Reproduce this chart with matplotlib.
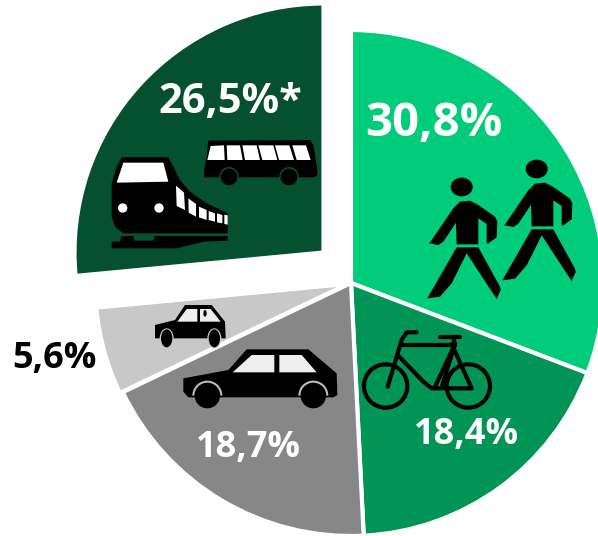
import matplotlib
matplotlib.use("Agg")
import matplotlib.pyplot as plt
from matplotlib.patches import Polygon, Circle, Ellipse, Arc

W, H = 598, 536

# Pie data
shares = [30.8, 18.4, 18.7, 5.6, 26.5]
labels = ["30,8%", "18,4%", "18,7%", "5,6%", "26,5%*"]
colors = ["#00CC7A", "#009455", "#878787", "#C8C8C8", "#04502F"]
explode = [0, 0, 0, 3, 41]  # pie takes these in data units, here pixels
label_xy = [(434, 123), (466, 435), (248, 448), (54, 359), (230, 102)]
label_size = [34, 26, 26, 26, 30]
label_color = ["white", "white", "white", "black", "white"]

fig = plt.figure(figsize=(W / 100, H / 100), dpi=100)
ax = fig.add_axes([0, 0, 1, 1])
wedges, _ = ax.pie(shares, colors=colors, explode=explode, startangle=90,
                   counterclock=False, center=(351, H - 283), radius=253,
                   wedgeprops={"edgecolor": "white", "linewidth": 3})
# the dark slice sits a bit higher than its own mid angle in the original
wedges[4].set_center((323.5, H - 252.5))
wedges[4].set_radius(249)
ax.set_xlim(0, W)
ax.set_ylim(0, H)
ax.set_aspect("equal")
ax.axis("off")

for lab, (x, y), s, c in zip(labels, label_xy, label_size, label_color):
    ax.text(x, H - y, lab, fontsize=s, color=c, family="Open Sans", weight="bold",
            ha="center", va="center", zorder=7)


def pts(p, ox, oy, dx=0, dy=0):
    return [(ox + (a + dx) / 3, H - (oy + (b + dy) / 3)) for a, b in p]


def poly(p, ox, oy, color="black", dx=0, dy=0):
    ax.add_patch(Polygon(pts(p, ox, oy, dx, dy), closed=True, fc=color, ec="none", zorder=5))


def circ(x, y, r, ox, oy, color="black"):
    ax.add_patch(Circle((ox + x / 3, H - (oy + y / 3)), r / 3, fc=color, ec="none", zorder=5))


# Train
ox, oy = 90, 120
poly([(95, 112), (235, 112), (250, 140), (270, 180), (300, 215), (350, 250), (413, 280),
      (413, 340), (100, 340), (75, 320), (65, 290), (65, 190), (80, 140)], ox, oy)
poly([(100, 128), (220, 128), (235, 185), (80, 188)], ox, oy, "white")
circ(98, 264, 14, ox, oy, "white")
circ(207, 264, 14, ox, oy, "white")
for w in [[(258, 197), (282, 218), (285, 270), (260, 258)],
          [(295, 235), (318, 252), (318, 290), (296, 278)],
          [(327, 260), (350, 270), (350, 300), (327, 292)],
          [(356, 273), (375, 280), (375, 305), (356, 300)],
          [(381, 280), (397, 285), (397, 310), (381, 307)],
          [(403, 284), (413, 286), (413, 314), (403, 312)]]:
    poly(w, ox, oy, "white")
poly([(65, 365), (90, 365), (95, 348), (130, 348), (133, 362), (190, 362), (195, 348),
      (413, 348), (413, 362), (340, 365), (260, 385), (65, 385)], ox, oy)

# Bus
poly([(355, 62), (660, 60), (670, 75), (682, 150), (682, 165), (672, 172), (342, 172),
      (342, 150), (350, 110)], ox, oy)
for w in [[(362, 78), (402, 76), (404, 120), (352, 120)],
          [(410, 76), (450, 76), (458, 120), (412, 120)],
          [(457, 76), (500, 76), (510, 120), (465, 120)],
          [(505, 76), (550, 76), (562, 120), (517, 120)],
          [(555, 76), (598, 76), (612, 120), (567, 120)],
          [(607, 76), (648, 76), (662, 120), (620, 120)]]:
    poly(w, ox, oy, "white")
for x in [417, 597]:
    circ(x, 170, 29, ox, oy, "#04502F")
    circ(x, 171, 25, ox, oy)

# Walkers
ox, oy = 420, 150
torso = [(120, 155), (150, 152), (175, 165), (225, 200), (232, 215), (230, 262), (205, 280),
         (200, 280), (200, 222), (175, 205), (175, 283), (110, 283), (108, 218), (70, 275),
         (55, 285), (28, 280), (100, 175)]
legs = [(110, 292), (175, 292), (240, 410), (242, 420), (230, 447), (140, 310), (95, 400),
        (60, 440), (22, 445)]
for dx, dy in [(0, 0), (225, -54)]:
    poly(torso, ox, oy, dx=dx, dy=dy)
    poly(legs, ox, oy, dx=dx, dy=dy)
    ax.add_patch(Ellipse((ox + (125 + dx) / 3, H - (oy + (111 + dy) / 3)), 66 / 3, 56 / 3,
                         fc="black", ec="none", zorder=5))

# Bike
ox, oy = 355, 320
for x in [92, 340]:
    ax.add_patch(Circle((ox + x / 3, H - (oy + 198 / 3)), 65 / 3, fc="none", ec="black",
                        lw=3, zorder=5))
for seg in [[(185, 37), (155, 37), (140, 60), (98, 200)],
            [(135, 75), (300, 75)],
            [(128, 105), (205, 185), (230, 205), (350, 205)],
            [(300, 72), (240, 200)],
            [(290, 72), (350, 205)],
            [(300, 72), (262, 195)],
            [(255, 52), (315, 52)],
            [(295, 52), (300, 75)]]:
    p = pts(seg, ox, oy)
    ax.plot([a for a, b in p], [b for a, b in p], color="black", lw=3, zorder=5,
            solid_capstyle="round", solid_joinstyle="round")

# Cars
ox, oy = 90, 270
poly([(195, 165), (255, 150), (285, 105), (365, 105), (405, 155), (407, 205), (195, 205)], ox, oy)
poly([(262, 155), (290, 117), (322, 117), (322, 155)], ox, oy, "#EEEEEE")
poly([(330, 117), (362, 117), (392, 155), (330, 155)], ox, oy, "#EEEEEE")
ax.add_patch(Ellipse((ox + 345 / 3, H - (oy + 130 / 3)), 10 / 3, 20 / 3, fc="black", ec="none", zorder=6))
for x in [230, 373]:
    ax.add_patch(Ellipse((ox + x / 3, H - (oy + 205 / 3)), 42 / 3, 60 / 3, fc="#C8C8C8", ec="none", zorder=5))
    ax.add_patch(Ellipse((ox + x / 3, H - (oy + 205 / 3)), 34 / 3, 54 / 3, fc="black", ec="none", zorder=6))

poly([(280, 325), (415, 300), (470, 238), (655, 238), (740, 310), (742, 375), (730, 382),
      (295, 382), (280, 365)], ox, oy)
poly([(428, 307), (485, 255), (553, 255), (553, 307)], ox, oy, "#EEEEEE")
poly([(568, 255), (635, 255), (680, 307), (568, 307)], ox, oy, "#EEEEEE")
for x in [352, 670]:
    ax.add_patch(Arc((ox + x / 3, H - (oy + 377 / 3)), 84 / 3, 84 / 3, theta1=0, theta2=180,
                     ec="#BBBBBB", lw=1.5, zorder=6))
    circ(x, 377, 38, ox, oy)

fig.savefig("out.png", dpi=100)
